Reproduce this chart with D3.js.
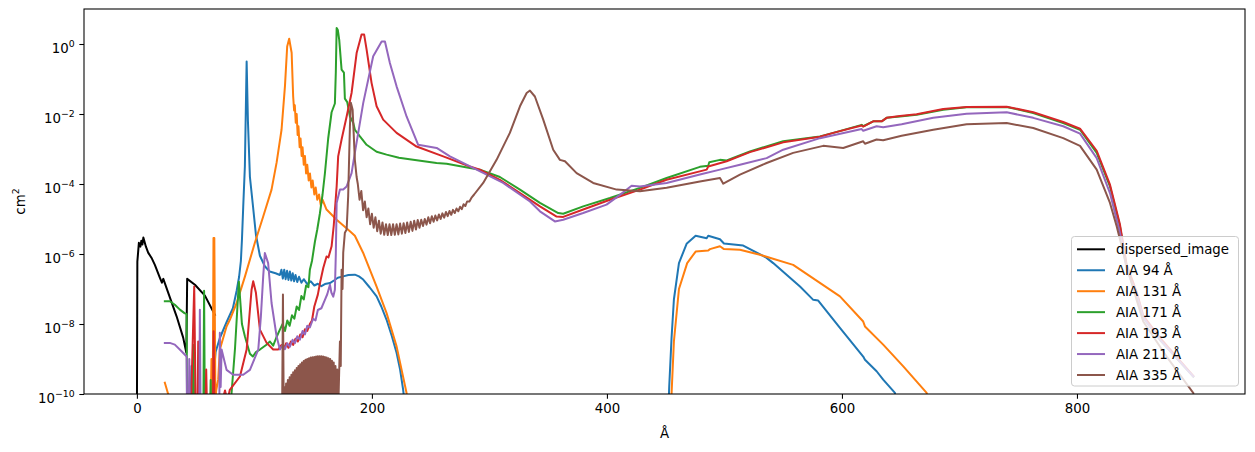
<!DOCTYPE html>
<html>
<head>
<meta charset="utf-8">
<script src="https://cdn.jsdelivr.net/npm/d3@7"></script>
<style>
  body { margin: 0; background: #fff; }
  svg { font-family: "DejaVu Sans", sans-serif; display: block; }
</style>
</head>
<body>
<svg id="chart"></svg>
<script>
// wavelength (Å), log10 of effective area (cm²)
const dispersedImage = [[0,-11],[0.4,-6.22],[1.7,-5.68],[3,-5.79],[3.8,-5.62],[4.7,-5.73],[5.5,-5.53],[7.7,-5.79],[9.6,-5.96],[12.8,-6.13],[15.3,-6.31],[19.6,-6.68],[21.3,-6.82],[22.5,-6.71],[26.4,-7.08],[33.8,-7.78],[39.4,-8.39],[42.1,-8.82],[42.8,-6.71],[49.4,-6.88],[57.9,-7.19],[66.4,-7.74]];

const aia94 = [[45,-11],[46.5,-9.2],[47.5,-11],[52,-11],[53,-9.6],[54,-11],[63.5,-11],[65,-9.6],[67,-8.8],[70.6,-8.4],[76.3,-7.95],[81.7,-7.55],[84.9,-7.05],[87,-6.65],[88.5,-6.2],[89.4,-5.6],[90.5,-4.65],[91.9,-3.5],[93.4,-0.5],[94.5,-2.2],[96.2,-3.8],[98.7,-4.6],[101.3,-5.45],[104.7,-6.05],[108.9,-6.35],[113,-6.5],[118,-6.55],[121.7,-6.6],
  [123,-6.45],[124.2,-6.7],[125.4,-6.45],[126.6,-6.72],[127.8,-6.48],[129,-6.74],[130.2,-6.5],[131.4,-6.76],[132.6,-6.55],[133.8,-6.78],[135,-6.6],[136.5,-6.8],[138,-6.65],[140,-6.82],[142,-6.72],[145,-6.86],[148,-6.78],[151,-6.9],[154,-6.85],[157,-6.92],[160,-6.86],[164.3,-6.83],[168,-6.75],[171,-6.68],[175.6,-6.64],[180,-6.6],[185.5,-6.59],[189,-6.64],[192.6,-6.73],[198,-6.95],[204,-7.21],[208,-7.5],[212.5,-7.88],[217,-8.35],[221,-8.82],[224,-9.3],[226.6,-9.88],[229,-10.6],
  [451.8,-11],[453,-9.8],[455,-8.4],[457,-7.3],[461.3,-6.26],[467.8,-5.71],[475.5,-5.48],[484.9,-5.55],[486.2,-5.48],[496.2,-5.58],[499.6,-5.7],[516,-5.76],[535.9,-6.11],[541.5,-6.26],[564.3,-6.93],[575.6,-7.31],[579.8,-7.33],[598.3,-8.11],[618.1,-8.93],[619.6,-9.02],[629.5,-9.35],[635.1,-9.59],[645.1,-9.97],[648,-10.6]];

const aia131 = [[23.8,-9.68],[26.6,-10],[28,-10.6],[62.5,-11],[63.5,-9],[64.5,-10.6],[65.2,-5.54],[65.9,-5.54],[66.8,-10.2],[67.5,-9.9],[69.2,-9.59],[70.6,-8.73],[76.3,-8.07],[79.1,-7.88],[84.9,-7.4],[92,-6.64],[100.4,-5.68],[107.5,-4.93],[114.6,-4.16],[118.9,-3.39],[123.1,-2.45],[126,-1.21],[127.9,-0.07],[129.6,0.15],[131.7,-0.25],[133,-1.5],
  [133.8,-1.9],[134.4,-1.75],[135.2,-2.25],[136,-2],[136.8,-2.6],[137.5,-2.35],[138.5,-2.95],[139.3,-2.7],[140.2,-3.2],[141,-2.95],[142,-3.45],[143,-3.2],[144,-3.7],[145,-3.45],[146.2,-3.9],[147.3,-3.7],[148.5,-4.1],[149.6,-3.9],[151,-4.3],[152.2,-4.1],[153.5,-4.45],[155,-4.3],[156.5,-4.6],[158,-4.45],[161.4,-4.73],[170,-5.02],[181.3,-5.35],[185.5,-5.48],[192.6,-5.97],[204,-6.93],[212.5,-7.69],[221,-8.64],[229.5,-9.97],[231,-10.6],
  [454,-11],[455,-10],[457,-8.5],[461.3,-7],[468.3,-6.26],[475.5,-5.93],[486.2,-5.9],[487.7,-5.86],[496.2,-5.78],[499.6,-5.86],[513.2,-5.88],[530.2,-6.02],[558.5,-6.31],[598.3,-7.21],[618.1,-7.93],[619.6,-8.07],[635.1,-8.59],[652.2,-9.21],[672.1,-9.97],[675,-10.6]];

const aia171 = [[23.8,-7.35],[28.1,-7.35],[32.3,-7.45],[36.6,-7.59],[40.5,-7.69],[42.3,-7.72],[42.8,-11],[47.5,-11],[48.2,-8.6],[48.9,-11],[56.5,-11],[57.2,-7.05],[57.9,-11],[62,-11],[62.8,-9.6],[63.4,-11],[79.1,-11],[80.5,-10],[83.5,-8.7],[86.8,-6.79],[89.4,-8],[91.9,-8.35],[96.2,-8.85],[98.7,-8.93],[101.3,-8.8],[104.7,-8.73],[110,-8.6],[113.2,-8.5],[116,-8.62],[118.5,-8.4],[121.7,-8.16],
  [124,-8],[126,-8.2],[128,-7.9],[130,-8.05],[132,-7.75],[134,-7.85],[136,-7.5],[138,-7.6],[140,-7.2],[142,-7.3],[144,-6.9],[146,-6.95],[147.2,-6.45],[149,-6.2],[151.5,-5.65],[153.5,-5.3],[155.7,-4.85],[158,-4.3],[160,-3.7],[162.8,-2.7],[165.7,-1.95],[168.5,-1.7],[169.3,-0.8],[170,0.46],[171,0.4],[172.2,0.12],[174.2,-0.73],[176.2,-0.82],[177,-1.56],[179,-1.66],[181.3,-2.07],[184.1,-2.25],[185.5,-2.45],[189.8,-2.64],[195.5,-2.88],[204,-3.08],[212.5,-3.16],[223,-3.25],[235.1,-3.31],[255,-3.4],[263.6,-3.42],[283.4,-3.54],[291.9,-3.59],[308.9,-3.8],[326,-4.16],[343,-4.54],[358.6,-4.83],[362.8,-4.85],[379.8,-4.64],[402.6,-4.4],[428.1,-4.11],[450.8,-3.83],[479.1,-3.51],[486.2,-3.48],[487.1,-3.38],[496.2,-3.31],[501.9,-3.33],[521.7,-3.07],[550,-2.78],[581.3,-2.64],[592.6,-2.54],[616.8,-2.31],[618.1,-2.35],[626.6,-2.21],[633.8,-2.21],[638,-2.11],[649.4,-2.07],[663.6,-2.02],[686.2,-1.88],[706.1,-1.81],[740.2,-1.8],[762.8,-1.97],[788.3,-2.26],[802.6,-2.45],[816.8,-3.11],[828.1,-4.07],[836.6,-5.21],[842.3,-6.35],[850.8,-7.11],[856.4,-7.82],[870.6,-8.45],[899,-9.5]];

const aia193 = [[45.5,-11],[48.8,-6.93],[50.2,-11],[51.5,-11],[52.2,-8.5],[53,-11],[58,-11],[59,-9.3],[60,-11],[64.5,-11],[65.3,-8.21],[66.2,-11],[70.6,-11],[72,-10.3],[75,-9.9],[77,-10.2],[79.1,-9.88],[87.7,-9.5],[93.4,-8.73],[97.6,-7.02],[99,-6.78],[101.3,-7.11],[104.7,-8.16],[110.4,-8.54],[116,-8.73],[120.3,-8.73],
  [123,-8.6],[125,-8.72],[127,-8.55],[129,-8.68],[131,-8.5],[133,-8.6],[135,-8.42],[137,-8.5],[139,-8.3],[141,-8.38],[143,-8.15],[145,-8.2],[147.2,-8],[149,-7.9],[151,-7.5],[154,-7.16],[156,-6.8],[158.6,-6.4],[161.4,-6.07],[163,-6.1],[165.7,-5.78],[167.5,-5.2],[170,-4.07],[171.3,-3.21],[174.2,-2.73],[178.5,-2.07],[182.7,-1.4],[187,-0.26],[191.2,0.27],[193.4,0.27],[195.5,-0.16],[199.7,-1.11],[204,-1.78],[209.6,-2.16],[221,-2.54],[238,-2.93],[260.7,-3.21],[283.4,-3.5],[291.9,-3.59],[308.9,-3.88],[326,-4.26],[343,-4.64],[357.2,-4.93],[362.8,-4.94],[379.8,-4.73],[402.6,-4.45],[428.1,-4.16],[450.8,-3.88],[484.9,-3.59],[486.2,-3.5],[501.9,-3.35],[521.7,-3.09],[550,-2.81],[581.3,-2.65],[592.6,-2.54],[616.8,-2.33],[618.1,-2.36],[626.6,-2.21],[633.8,-2.21],[638,-2.11],[649.4,-2.06],[663.6,-2.01],[686.2,-1.86],[706.1,-1.8],[740.2,-1.79],[762.8,-1.95],[788.3,-2.23],[802.6,-2.42],[816.8,-3.05],[828.1,-4.02],[836.6,-5.16],[842.3,-6.31],[850.8,-7.08],[856.4,-7.76],[870.6,-8.39],[899,-9.48]];

const aia211 = [[23.8,-8.54],[28,-8.54],[32.3,-8.59],[38,-8.78],[42.3,-8.93],[42.8,-11],[44,-11],[44.6,-9],[45.2,-11],[53,-11],[53.6,-7.59],[54.3,-11],[70,-11],[70.6,-8.25],[71.3,-9.8],[72.1,-8.73],[76.3,-9.31],[81.9,-9.45],[90.5,-9.45],[96.2,-9.31],[103.3,-8.73],[105.5,-7.8],[107.5,-6.64],[108.9,-5.97],[111.7,-6.26],[114.6,-7.4],[118.9,-8.35],[121.7,-8.73],
  [124,-8.6],[126,-8.72],[128,-8.55],[130.2,-8.65],[132.5,-8.45],[134.5,-8.55],[136.5,-8.35],[138.7,-8.45],[141,-8.2],[143,-8.3],[145,-8.05],[147.2,-8.1],[150,-7.85],[152,-7.9],[154,-7.6],[157,-7.55],[160,-7.31],[162,-7.15],[164.3,-6.88],[165.5,-7.1],[167.1,-7.22],[168.5,-7.02],[169.3,-6],[170,-4.54],[172.8,-4.16],[175.6,-4.16],[178.5,-4.07],[182.7,-3.69],[185.5,-3.11],[192.6,-1.69],[201.1,-0.35],[208.3,0.07],[211.1,0.07],[215.3,-0.54],[221,-1.21],[229.5,-2.07],[239.4,-2.88],[255.1,-2.97],[266.4,-3.21],[289.1,-3.59],[311.7,-3.97],[334.5,-4.5],[343,-4.78],[355.7,-5.07],[362.8,-5.02],[379.8,-4.83],[399.7,-4.59],[411.1,-4.31],[421,-4.05],[428.1,-4.07],[450.8,-3.97],[479.1,-3.73],[496.2,-3.59],[513.2,-3.45],[535.9,-3.26],[550,-3.02],[581.3,-2.69],[616.8,-2.43],[618.1,-2.48],[629.5,-2.35],[635.1,-2.38],[650.8,-2.29],[677.7,-2.11],[706.1,-1.99],[740.2,-1.95],[762.8,-2.11],[788.3,-2.35],[802.6,-2.56],[816.8,-3.26],[828.1,-4.26],[836.6,-5.4],[842.3,-6.45],[850.8,-7.16],[856.4,-7.82],[870.6,-8.45],[899,-9.5]];

const aia335 = [[123.5,-11],[124.3,-7.16],[125,-10.6],
  [125.5,-9.8],[126.25,-10.6],[127,-9.7],[127.75,-10.6],[128.5,-9.6],[129.25,-10.6],[130,-9.52],[130.75,-10.6],[131.5,-9.45],[132.25,-10.6],[133,-9.38],[133.75,-10.6],[134.5,-9.32],[135.25,-10.6],[136,-9.26],[136.75,-10.6],[137.5,-9.2],[138.25,-10.6],[139,-9.15],[139.75,-10.6],[140.5,-9.1],[141.25,-10.6],[142,-9.06],[142.75,-10.6],[143.5,-9.02],[144.25,-10.6],[145,-9],[145.75,-10.6],[146.5,-8.98],[147.25,-10.6],[148,-8.96],[148.75,-10.6],[149.5,-8.95],[150.25,-10.6],[151,-8.94],[151.75,-10.6],[152.5,-8.93],[153.25,-10.6],[154,-8.92],[154.75,-10.6],[155.5,-8.92],[156.25,-10.6],[157,-8.92],[157.75,-10.6],[158.5,-8.93],[159.25,-10.6],[160,-8.94],[160.75,-10.6],[161.5,-8.96],[162.25,-10.6],[163,-8.98],[163.75,-10.6],[164.5,-9],[165.25,-10.6],[166,-9.05],[166.75,-10.6],[167.5,-9.1],[168.25,-10.6],[169,-9.2],[169.75,-10.6],[170.5,-9.3],[171.25,-10.6],
  [172.8,-8.5],[173.5,-9.2],[174.2,-6.45],[175,-7],[175.6,-5.96],[177,-5.39],[178.5,-5.3],[179.8,-4.35],[181.3,-2.35],[182.1,-1.68],[183.6,-1.88],[185.5,-3.31],[187,-3.8],
  [188,-4],[189.5,-4.45],[191,-4.2],[192.5,-4.75],[194,-4.5],[195.5,-4.95],[197,-4.7],[198.5,-5.15],[200,-4.85],[201.5,-5.25],[203,-4.95],[204.5,-5.35],[206,-5.05],[207.5,-5.42],[209,-5.1],[210.5,-5.45],[212,-5.15],[213.5,-5.46],[215,-5.15],[216.5,-5.46],[218,-5.15],[219.5,-5.45],[221,-5.15],[222.5,-5.44],[224,-5.13],[225.5,-5.42],[227,-5.12],[228.5,-5.4],[230,-5.1],[231.5,-5.37],[233,-5.08],[234.5,-5.34],[236,-5.05],[237.5,-5.3],[239,-5.03],[240.5,-5.25],[242,-5.02],[243.5,-5.2],[245,-5],[246.5,-5.16],[248,-4.95],[249.5,-5.12],[251,-4.92],[252.5,-5.08],[254,-4.9],[255.5,-5.04],[257,-4.87],[258.5,-5],[260,-4.84],[261.5,-4.96],[263,-4.8],[264.5,-4.92],[266,-4.77],[267.5,-4.88],[269,-4.74],[270.5,-4.83],[272,-4.7],[273.5,-4.78],[275,-4.65],[276.5,-4.72],[278,-4.58],[279.5,-4.63],[281,-4.5],[283,-4.5],[285,-4.38],[287,-4.3],
  [294.7,-3.97],[306.1,-3.31],[317.4,-2.54],[326,-1.78],[331.7,-1.4],[334.5,-1.33],[338.7,-1.5],[345.8,-2.16],[354.3,-3.02],[360,-3.31],[364.3,-3.35],[374.2,-3.69],[388.3,-3.97],[408.3,-4.16],[428.1,-4.21],[450.8,-4.11],[479.1,-3.93],[496.2,-3.83],[499,-3.99],[513.2,-3.73],[535.9,-3.4],[558.5,-3.11],[584.1,-2.91],[601.1,-2.97],[618.1,-2.78],[619.6,-2.85],[629.5,-2.73],[635.1,-2.75],[650.8,-2.62],[677.7,-2.45],[706.1,-2.29],[740.2,-2.26],[762.8,-2.4],[788.3,-2.69],[802.6,-2.91],[816.8,-3.59],[828.1,-4.54],[833.8,-5.21],[842.3,-6.35],[850.8,-7.31],[856.4,-7.93],[876.3,-8.93],[899,-9.97]];

const seriesNames = ["dispersed_image", "AIA 94 Å", "AIA 131 Å", "AIA 171 Å", "AIA 193 Å", "AIA 211 Å", "AIA 335 Å"];
const seriesData = [dispersedImage, aia94, aia131, aia171, aia193, aia211, aia335];
const colors = ["#000000", "#1f77b4", "#ff7f0e", "#2ca02c", "#d62728", "#9467bd", "#8c564b"];

const xTicks = [0, 200, 400, 600, 800];
const yTicks = [1e-10, 1e-8, 1e-6, 1e-4, 1e-2, 1];

let width = 1255;
let height = 452;
let margin = {top: 9, right: 10, bottom: 58, left: 84};
let svg = d3.select("#chart").attr("width", width).attr("height", height);

let xScale = d3.scaleLinear()
               .domain([-45, 943])
               .range([margin.left, width - margin.right]);
let yScale = d3.scaleLog()
               .domain([1e-10, 10])
               .range([height - margin.bottom, margin.top]);

svg.append("rect").attr("width", width).attr("height", height).attr("fill", "#fff");

svg.append("defs").append("clipPath").attr("id", "plot-clip")
   .append("rect")
   .attr("x", margin.left).attr("y", margin.top)
   .attr("width", width - margin.left - margin.right)
   .attr("height", height - margin.top - margin.bottom);

// lines
let line = d3.line()
             .x(d => xScale(d[0]))
             .y(d => yScale(Math.pow(10, d[1])));

svg.append("g")
   .attr("clip-path", "url(#plot-clip)")
   .selectAll("path")
   .data(seriesData)
   .join("path")
   .attr("d", d => line(d))
   .attr("fill", "none")
   .attr("stroke", (d, i) => colors[i])
   .attr("stroke-width", 2)
   .attr("stroke-linejoin", "round")
   .attr("stroke-linecap", "square");

// axes
let xAxis = svg.append("g")
   .attr("transform", "translate(0," + (height - margin.bottom) + ")")
   .call(d3.axisBottom(xScale).tickValues(xTicks).tickSize(4.67).tickPadding(4.67));
xAxis.select(".domain").remove();
xAxis.selectAll("line").attr("stroke", "#000").attr("stroke-width", 1.07);
xAxis.selectAll("text").attr("fill", "#000")
     .style("font-size", "13.33px").style("font-family", "DejaVu Sans");

let yAxis = svg.append("g")
   .attr("transform", "translate(" + margin.left + ",0)")
   .call(d3.axisLeft(yScale).tickValues(yTicks).tickSize(4.67).tickPadding(4.67).tickFormat(() => ""));
yAxis.select(".domain").remove();
yAxis.selectAll("line").attr("stroke", "#000").attr("stroke-width", 1.07);
yAxis.selectAll(".tick text").each(function(d) {
  let exp = Math.round(Math.log10(d));
  let t = d3.select(this)
            .attr("dy", null).attr("y", 8)
            .attr("fill", "#000")
            .style("font-size", "13.33px").style("font-family", "DejaVu Sans");
  t.text(null);
  t.append("tspan").text("10");
  t.append("tspan").attr("dy", -5.6).style("font-size", "9.33px")
   .text(exp < 0 ? "\u2212" + (-exp) : String(exp));
});

// frame
svg.append("rect")
   .attr("x", margin.left).attr("y", margin.top)
   .attr("width", width - margin.left - margin.right)
   .attr("height", height - margin.top - margin.bottom)
   .attr("fill", "none").attr("stroke", "#000").attr("stroke-width", 1.07);

// axis labels
svg.append("text")
   .attr("x", (margin.left + width - margin.right) / 2)
   .attr("y", 438)
   .attr("text-anchor", "middle")
   .style("font-size", "13.33px")
   .text("Å");

let yLabel = svg.append("text")
   .attr("transform", "translate(25," + ((margin.top + height - margin.bottom) / 2) + ") rotate(-90)")
   .attr("text-anchor", "middle")
   .style("font-size", "13.33px");
yLabel.append("tspan").text("cm");
yLabel.append("tspan").attr("dy", -5.6).style("font-size", "9.33px").text("2");

// legend
let legend = svg.append("g");
legend.append("rect")
   .attr("x", 1071.5).attr("y", 236.5)
   .attr("width", 167).attr("height", 149.5)
   .attr("rx", 3)
   .attr("fill", "#fff").attr("fill-opacity", 0.8)
   .attr("stroke", "#cccccc").attr("stroke-width", 1);

seriesNames.forEach((name, i) => {
  let cy = 249.3 + i * 20.95;
  legend.append("line")
        .attr("x1", 1077).attr("x2", 1105)
        .attr("y1", cy).attr("y2", cy)
        .attr("stroke", colors[i]).attr("stroke-width", 2);
  legend.append("text")
        .attr("x", 1116).attr("y", cy + 4.8)
        .style("font-size", "13.33px")
        .text(name);
});
</script>
</body>
</html>
